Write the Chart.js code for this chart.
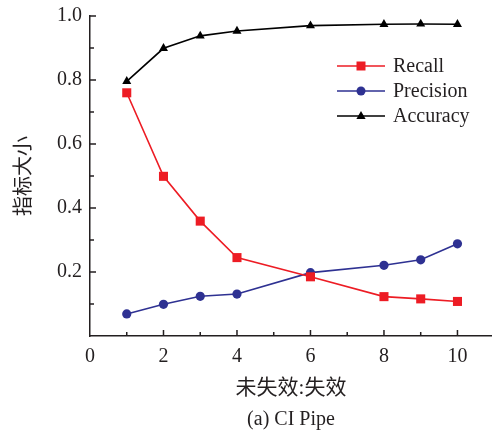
<!DOCTYPE html>
<html lang="zh">
<head>
    <meta charset="UTF-8" />
    <title>CI Pipe</title>
    <script src="https://cdn.jsdelivr.net/npm/chart.js"></script>
    <style>
        html, body { margin: 0; padding: 0; background: #fff; }
        #wrap { width: 492px; height: 431px; }
    </style>
</head>
<body>
    <div id="wrap"><canvas id="lineChart" width="492" height="431"></canvas></div>

    <script>
        // ratio of non-failed : failed
        const ratios = [1, 2, 3, 4, 6, 8, 9, 10];
        const recall = [0.760, 0.499, 0.359, 0.245, 0.185, 0.123, 0.116, 0.108];
        const precision = [0.069, 0.099, 0.124, 0.131, 0.198, 0.221, 0.238, 0.288];
        const accuracy = [0.796, 0.899, 0.938, 0.953, 0.970, 0.974, 0.975, 0.974];

        const serif = "'Liberation Serif', 'Times New Roman', 'Noto Sans CJK SC', serif";
        const textColor = '#231f20';

        function toPoints(values) {
            return ratios.map((r, i) => ({ x: r, y: values[i] }));
        }

        // inside tick marks (major + minor) on both axes
        const insideTicks = {
            id: 'insideTicks',
            afterDatasetsDraw(chart) {
                const ctx = chart.ctx;
                const xs = chart.scales.x, ys = chart.scales.y;
                const area = chart.chartArea;
                ctx.save();
                ctx.strokeStyle = textColor;
                ctx.lineWidth = 1.5;
                ctx.beginPath();
                for (let i = 1; i <= 10; i++) {
                    const px = xs.getPixelForValue(i);
                    const len = i % 2 === 0 ? 6 : 4;
                    ctx.moveTo(px, area.bottom);
                    ctx.lineTo(px, area.bottom - len);
                }
                for (let i = 1; i <= 10; i++) {
                    const py = ys.getPixelForValue(i / 10);
                    const len = i % 2 === 0 ? 6 : 4;
                    ctx.moveTo(area.left, py);
                    ctx.lineTo(area.left + len, py);
                }
                ctx.stroke();
                ctx.restore();
            }
        };

        function drawMarker(ctx, style, x, y, color) {
            ctx.fillStyle = color;
            ctx.beginPath();
            if (style === 'rect') {
                ctx.rect(x - 4.5, y - 4.5, 9, 9);
            } else if (style === 'circle') {
                ctx.arc(x, y, 4.5, 0, Math.PI * 2);
            } else {
                ctx.moveTo(x, y - 5);
                ctx.lineTo(x + 4.6, y + 3);
                ctx.lineTo(x - 4.6, y + 3);
                ctx.closePath();
            }
            ctx.fill();
        }

        // legend drawn in the upper right of the plot
        const innerLegend = {
            id: 'innerLegend',
            afterDraw(chart) {
                const ctx = chart.ctx;
                ctx.save();
                ctx.font = '20px ' + serif;
                ctx.textBaseline = 'middle';
                chart.data.datasets.forEach((ds, i) => {
                    const y = 66 + i * 25;
                    ctx.strokeStyle = ds.borderColor;
                    ctx.lineWidth = 1.5;
                    ctx.beginPath();
                    ctx.moveTo(337, y);
                    ctx.lineTo(385, y);
                    ctx.stroke();
                    drawMarker(ctx, ds.pointStyle, 361, y, ds.borderColor);
                    ctx.fillStyle = textColor;
                    ctx.fillText(ds.label, 393, y + 1);
                });
                ctx.restore();
            }
        };

        const ctx = document.getElementById('lineChart').getContext('2d');
        const chart = new Chart(ctx, {
            type: 'line',
            data: {
                datasets: [{
                    label: 'Recall',
                    data: toPoints(recall),
                    borderColor: '#ed1c24',
                    backgroundColor: '#ed1c24',
                    borderWidth: 1.6,
                    pointStyle: 'rect',
                    pointRadius: 6.4,
                    pointBorderWidth: 0
                }, {
                    label: 'Precision',
                    data: toPoints(precision),
                    borderColor: '#2e3192',
                    backgroundColor: '#2e3192',
                    borderWidth: 1.6,
                    pointStyle: 'circle',
                    pointRadius: 4.6,
                    pointBorderWidth: 0
                }, {
                    label: 'Accuracy',
                    data: toPoints(accuracy),
                    borderColor: '#000000',
                    backgroundColor: '#000000',
                    borderWidth: 1.6,
                    pointStyle: 'triangle',
                    pointRadius: 5.2,
                    pointBorderWidth: 0
                }]
            },
            options: {
                responsive: false,
                animation: false,
                layout: { autoPadding: false, padding: { top: 16, right: 0, left: 0, bottom: 0 } },
                plugins: {
                    legend: { display: false },
                    tooltip: { enabled: false },
                    title: {
                        display: true,
                        position: 'bottom',
                        fullSize: false,
                        text: '(a) CI Pipe',
                        color: textColor,
                        font: { family: serif, size: 20, weight: 'normal' },
                        padding: { top: 3, bottom: -1 }
                    }
                },
                scales: {
                    x: {
                        type: 'linear',
                        min: 0,
                        max: 10.94,
                        border: { color: textColor, width: 1.5 },
                        grid: { display: false, drawTicks: false },
                        ticks: {
                            stepSize: 1,
                            autoSkip: false,
                            includeBounds: false,
                            maxRotation: 0,
                            padding: 9,
                            color: textColor,
                            font: { family: serif, size: 20 },
                            callback: v => (v % 2 === 0 ? String(v) : '')
                        },
                        title: {
                            display: true,
                            text: '未失效:失效',
                            color: textColor,
                            font: { family: serif, size: 21 },
                            padding: { top: 0, bottom: 4 }
                        },
                        afterFit(scale) {
                            scale.height = 69;
                            scale.paddingLeft = 0;
                            scale.paddingRight = 0;
                        }
                    },
                    y: {
                        min: 0,
                        max: 1.0,
                        border: { color: textColor, width: 1.5 },
                        grid: { display: false, drawTicks: false },
                        ticks: {
                            stepSize: 0.1,
                            autoSkip: false,
                            padding: 8,
                            color: textColor,
                            font: { family: serif, size: 20 },
                            callback: v => {
                                const n = Math.round(v * 10);
                                return n > 0 && n % 2 === 0 ? (n / 10).toFixed(1) : '';
                            }
                        },
                        title: {
                            display: true,
                            text: '指标大小',
                            color: textColor,
                            font: { family: "'Noto Sans CJK SC', sans-serif", size: 20 },
                            padding: { top: 10 }
                        },
                        afterFit(scale) {
                            scale.width = 90;
                            scale.paddingTop = 0;
                            scale.paddingBottom = 0;
                        }
                    }
                }
            },
            plugins: [insideTicks, innerLegend]
        });
    </script>
</body>
</html>
